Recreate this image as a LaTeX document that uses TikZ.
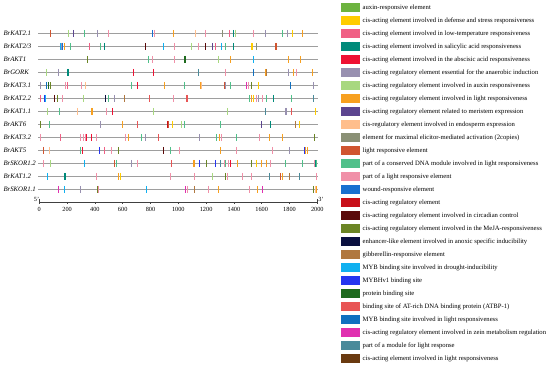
\documentclass[tikz,border=0pt]{standalone}
\usepackage{fontspec}
\setmainfont{Liberation Serif}
\usetikzlibrary{positioning}

\definecolor{auxin}{HTML}{6DB33F}
\definecolor{defense}{HTML}{FFCC00}
\definecolor{lowtemp}{HTML}{F06085}
\definecolor{salicylic}{HTML}{008A7A}
\definecolor{aba}{HTML}{EE1133}
\definecolor{anaerobic}{HTML}{9890B0}
\definecolor{auxinreg}{HTML}{A8D880}
\definecolor{lightreg}{HTML}{F7A020}
\definecolor{meristem}{HTML}{5C4590}
\definecolor{endosperm}{HTML}{FFBE8C}
\definecolor{elicitor}{HTML}{8A9075}
\definecolor{lre}{HTML}{D05530}
\definecolor{conserved}{HTML}{50C08A}
\definecolor{partlre}{HTML}{F090A8}
\definecolor{wound}{HTML}{1870D0}
\definecolor{cisreg}{HTML}{C8101A}
\definecolor{circadian}{HTML}{5A0A0A}
\definecolor{meja}{HTML}{6B8525}
\definecolor{anoxic}{HTML}{0A1040}
\definecolor{gibber}{HTML}{B07840}
\definecolor{mybdrought}{HTML}{10B0F0}
\definecolor{mybhv}{HTML}{2535F0}
\definecolor{protbind}{HTML}{1E6A1E}
\definecolor{atbp}{HTML}{E85555}
\definecolor{myblight}{HTML}{1070C0}
\definecolor{zein}{HTML}{E030B0}
\definecolor{lightmod}{HTML}{4A8A9A}
\definecolor{lightcis}{HTML}{6A3A10}

\begin{document}
\begin{tikzpicture}[
  x=1pt, y=-1pt,
  gene/.style={anchor=west, inner sep=0pt, font=\fontsize{6.8}{8}\selectfont\itshape},
  track/.style={draw=black!38, line width=1.3pt},
  elem/.style={line width=1pt},
  swatch/.style={rectangle, minimum width=18.7pt, minimum height=8.7pt, inner sep=0pt},
  entry/.style={inner sep=0pt, font=\fontsize{6.65}{8}\selectfont},
  ruler/.style={draw=black!75, line width=0.6pt},
  bplabel/.style={inner sep=0pt, font=\fontsize{6.3}{7}\selectfont}
]
\useasboundingbox (0,0) rectangle (550,366);

% gene names and promoter lines
\foreach \g [count=\i, evaluate=\i as \y using 33.3+13*(\i-1)] in
  {BrKAT2.1, BrKAT2/3, BrAKT1, BrGORK, BrKAT3.1, BrKAT2.2, BrKAT1.1,
   BrAKT6, BrKAT3.2, BrAKT5, BrSKOR1.2, BrKAT1.2, BrSKOR1.1} {
  \node[gene] (gene\i) at (3.3,\y) {\g};
  \draw[track] (38.3,\y) -- (317.7,\y);
}

% cis-elements, positions in bp
\begin{scope}[shift={(39.3,0)}, x=0.139pt]
  % BrKAT2.1
  \foreach \p/\c in {82/lre, 212/auxinreg, 245/meristem, 324/conserved, 417/anaerobic, 496/partlre,
    813/wound, 832/partlre, 964/lightreg, 1125/endosperm, 1199/partlre, 1317/elicitor, 1367/lowtemp,
    1396/salicylic, 1410/auxinreg, 1540/partlre, 1629/anaerobic, 1753/conserved, 1787/anaerobic,
    1818/defense, 1890/lightreg}
    \draw[elem, \c] (\p,29.8) -- (\p,36.8);
  % BrKAT2/3
  \foreach \p/\c in {149/mybdrought, 160/anaerobic, 170/wound, 180/lightreg, 228/conserved, 363/lowtemp,
    437/conserved, 468/salicylic, 765/circadian, 892/mybdrought, 976/partlre, 1096/auxinreg,
    1144/partlre, 1199/circadian, 1245/meristem, 1269/lowtemp, 1312/mybdrought, 1336/conserved,
    1396/salicylic, 1528/defense, 1537/defense, 1564/elicitor, 1699/lre, 1706/lre}
    \draw[elem, \c] (\p,42.8) -- (\p,49.8);
  % BrAKT1
  \foreach \p/\c in {348/meja, 784/conserved, 813/partlre, 974/partlre, 1044/protbind, 1052/protbind,
    1289/auxinreg, 1373/lightreg, 1540/mybdrought, 1791/lightreg, 1880/lightreg}
    \draw[elem, \c] (\p,55.8) -- (\p,62.8);
  % BrGORK
  \foreach \p/\c in {55/auxinreg, 137/anaerobic, 200/salicylic, 208/salicylic, 676/aba, 825/aba,
    1144/lightmod, 1343/partlre, 1541/myblight, 1624/lightreg, 1634/gibber, 1796/anaerobic,
    1827/lightreg, 1849/partlre, 1964/lightreg}
    \draw[elem, \c] (\p,68.8) -- (\p,75.8);
  % BrKAT3.1
  \foreach \p/\c in {10/anaerobic, 55/myblight, 66/protbind, 77/meja, 191/partlre, 201/lowtemp,
    300/partlre, 332/endosperm, 660/conserved, 703/aba, 904/lightreg, 1048/conserved, 1161/lightreg,
    1170/endosperm, 1331/lre, 1341/anaerobic, 1379/conserved, 1494/zein, 1505/partlre, 1527/meja,
    1575/defense, 1804/myblight, 1971/anaerobic}
    \draw[elem, \c] (\p,81.8) -- (\p,88.8);
  % BrKAT2.2
  \foreach \p/\c in {12/lowtemp, 37/mybhv, 48/mybdrought, 108/circadian, 129/meja, 165/partlre,
    316/auxinreg, 474/anoxic, 498/conserved, 539/anaerobic, 611/gibber, 793/atbp, 963/partlre,
    1056/atbp, 1064/atbp, 1509/conserved, 1527/lightreg, 1541/defense, 1559/partlre, 1580/anaerobic,
    1604/partlre, 1637/conserved, 1685/salicylic, 1816/conserved, 1973/lightmod}
    \draw[elem, \c] (\p,94.8) -- (\p,101.8);
  % BrKAT1.1
  \foreach \p/\c in {60/auxinreg, 144/conserved, 276/endosperm, 374/lightreg, 382/lightreg,
    487/partlre, 527/aba, 819/auxinreg, 1352/auxinreg, 1624/lightmod, 1768/anaerobic,
    1777/anaerobic, 1816/atbp, 1988/defense}
    \draw[elem, \c] (\p,107.8) -- (\p,114.8);
  % BrAKT6
  \foreach \p/\c in {7/meja, 70/conserved, 437/anaerobic, 597/lightreg, 708/atbp, 924/cisreg,
    933/lre, 960/defense, 1024/auxinreg, 1048/conserved, 1305/conserved, 1597/meristem,
    1660/salicylic, 1845/gibber, 1874/defense}
    \draw[elem, \c] (\p,120.8) -- (\p,127.8);
  % BrKAT3.2
  \foreach \p/\c in {12/partlre, 156/lowtemp, 293/partlre, 318/partlre, 329/partlre, 341/aba,
    372/aba, 408/partlre, 620/partlre, 640/lightreg, 737/conserved, 765/anaerobic, 861/atbp,
    1156/anaerobic, 1276/conserved, 1293/lightreg, 1312/partlre, 1420/conserved, 1582/partlre,
    1657/lightreg, 1751/lightreg, 1983/meja}
    \draw[elem, \c] (\p,133.8) -- (\p,140.8);
  % BrAKT5
  \foreach \p/\c in {27/lre, 70/endosperm, 296/conserved, 309/aba, 432/mybhv, 467/lowtemp,
    516/partlre, 568/meja, 894/circadian, 947/conserved, 1005/partlre, 1307/lightreg, 1420/partlre,
    1679/partlre, 1801/anaerobic, 1906/mybhv, 1917/lightreg, 1926/lightreg}
    \draw[elem, \c] (\p,146.8) -- (\p,153.8);
  % BrSKOR1.2
  \foreach \p/\c in {29/partlre, 84/auxinreg, 324/mybdrought, 539/lre, 552/conserved, 665/anaerobic,
    705/partlre, 953/atbp, 1111/lightreg, 1120/lightreg, 1149/mybhv, 1204/meja, 1264/mybhv,
    1300/lightmod, 1330/partlre, 1340/conserved, 1360/partlre, 1372/aba, 1427/lightreg, 1523/meja,
    1564/defense, 1600/lightreg, 1636/lightreg, 1660/partlre, 1769/conserved, 1893/conserved,
    1978/partlre, 1986/salicylic, 1993/conserved}
    \draw[elem, \c] (\p,159.8) -- (\p,166.8);
  % BrKAT1.2
  \foreach \p/\c in {59/mybdrought, 181/salicylic, 189/salicylic, 413/partlre, 573/lightreg,
    586/defense, 947/partlre, 1120/partlre, 1247/auxinreg, 1336/meja, 1354/partlre, 1465/partlre,
    1530/partlre, 1654/lightmod, 1733/lre, 1750/lightreg, 1799/gibber, 1873/lightmod, 1996/partlre}
    \draw[elem, \c] (\p,172.8) -- (\p,179.8);
  % BrSKOR1.1
  \foreach \p/\c in {135/zein, 180/mybdrought, 298/anaerobic, 417/meja, 426/partlre, 773/mybdrought,
    1055/zein, 1063/partlre, 1120/gibber, 1219/partlre, 1288/lightreg, 1510/partlre, 1568/lightreg,
    1607/zein, 1970/meja, 1987/endosperm, 1996/lightreg}
    \draw[elem, \c] (\p,185.8) -- (\p,192.8);

  % bp ruler
  \draw[ruler] (0,198.6) -- (0,202.3) -- (2000,202.3) -- (2000,198.6);
  \foreach \v in {0,200,...,2000} {
    \draw[ruler] (\v,202.3) -- (\v,204.2);
    \node[bplabel] (bp\v) at (\v,209.5) {\v};
  }
  \node[bplabel, anchor=east] (five) at (0,199.6) {5'};
  \node[bplabel, anchor=west] (three) at (2007,199.8) {3'};
\end{scope}

% legend
\foreach \c/\t [count=\i, evaluate=\i as \y using 7.7+13*(\i-1)] in {
  auxin/auxin-responsive element,
  defense/cis-acting element involved in defense and stress responsiveness,
  lowtemp/cis-acting element involved in low-temperature responsiveness,
  salicylic/cis-acting element involved in salicylic acid responsiveness,
  aba/cis-acting element involved in the abscisic acid responsiveness,
  anaerobic/cis-acting regulatory element essential for the anaerobic induction,
  auxinreg/cis-acting regulatory element involved in auxin responsiveness,
  lightreg/cis-acting regulatory element involved in light responsiveness,
  meristem/cis-acting regulatory element related to meristem expression,
  endosperm/cis-regulatory element involved in endosperm expression,
  elicitor/element for maximal elicitor-mediated activation (2copies),
  lre/light responsive element,
  conserved/part of a conserved DNA module involved in light responsiveness,
  partlre/part of a light responsive element,
  wound/wound-responsive element,
  cisreg/cis-acting regulatory element,
  circadian/cis-acting regulatory element involved in circadian control,
  meja/cis-acting regulatory element involved in the MeJA-responsiveness,
  anoxic/enhancer-like element involved in anoxic specific inducibility,
  gibber/gibberellin-responsive element,
  mybdrought/MYB binding site involved in drought-inducibility,
  mybhv/MYBHv1 binding site,
  protbind/protein binding site,
  atbp/binding site of AT-rich DNA binding protein (ATBP-1),
  myblight/MYB binding site involved in light responsiveness,
  zein/cis-acting regulatory element involved in zein metabolism regulation,
  lightmod/part of a module for light response,
  lightcis/cis-acting element involved in light responsiveness} {
  \node[swatch, fill=\c] (key\i) at (350.35,\y) {};
  \node[entry, right=2.6pt of key\i] (lab\i) {\t};
}

\end{tikzpicture}
\end{document}
